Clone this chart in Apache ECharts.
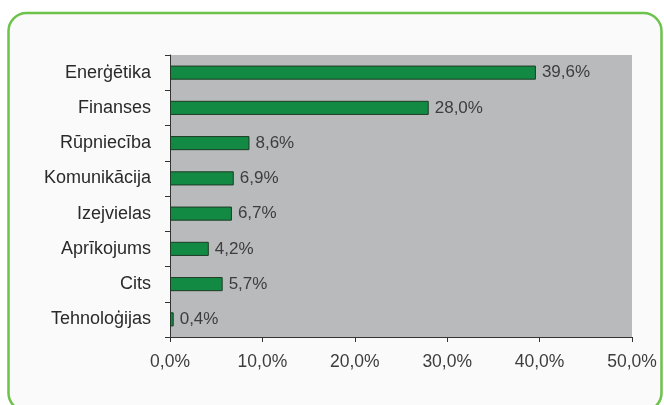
<!DOCTYPE html>
<html><head><meta charset="utf-8">
<script src="https://cdn.jsdelivr.net/npm/echarts@6/dist/echarts.min.js"></script>
<style>html,body{margin:0;padding:0;background:#fff}#c{width:664px;height:405px}</style>
</head><body><div id="c"></div>
<script>
const categories = ['Enerģētika','Finanses','Rūpniecība','Komunikācija','Izejvielas','Aprīkojums','Cits','Tehnoloģijas'];
const values = [39.6, 28.0, 8.6, 6.9, 6.7, 4.2, 5.7, 0.4];
const xTicks = [0, 10, 20, 30, 40, 50];

const chart = echarts.init(document.getElementById('c'));
const fmt = v => v.toFixed(1).replace('.', ',') + '%';
chart.setOption({
  animation: false,
  backgroundColor: '#ffffff',
  graphic: [{
    type: 'rect', z: -10, silent: true,
    shape: { x: 8.5, y: 13, width: 653, height: 398, r: 18 },
    style: { fill: '#fafafa', stroke: '#6cc24a', lineWidth: 2.5 }
  }],
  grid: { left: 170, right: 32, top: 55, bottom: 68, show: true, backgroundColor: '#b8babc', borderWidth: 0 },
  xAxis: {
    type: 'value', min: xTicks[0], max: xTicks[xTicks.length - 1], interval: 10,
    axisLine: { show: true, lineStyle: { color: '#333', width: 1 } },
    axisTick: { show: true, length: 5, lineStyle: { color: '#333' } },
    splitLine: { show: false },
    axisLabel: { formatter: v => fmt(v), color: '#3d3d3d', fontFamily: 'Liberation Sans', fontSize: 17.5, margin: 16 }
  },
  yAxis: {
    type: 'category', data: categories, inverse: true,
    axisLine: { show: true, lineStyle: { color: '#333', width: 1 } },
    axisTick: { show: true, length: 5, lineStyle: { color: '#333' } },
    axisLabel: { color: '#2a2a2a', fontFamily: 'Liberation Sans', fontSize: 18, margin: 19 }
  },
  series: [{
    type: 'bar', data: values, barCategoryGap: '60%',
    itemStyle: { color: '#128a44', borderColor: '#1d3b24', borderWidth: 1 },
    label: { show: true, position: 'right', distance: 6, formatter: p => fmt(p.value), color: '#3d3d3d', fontFamily: 'Liberation Sans', fontSize: 17 }
  }]
});
</script></body></html>
